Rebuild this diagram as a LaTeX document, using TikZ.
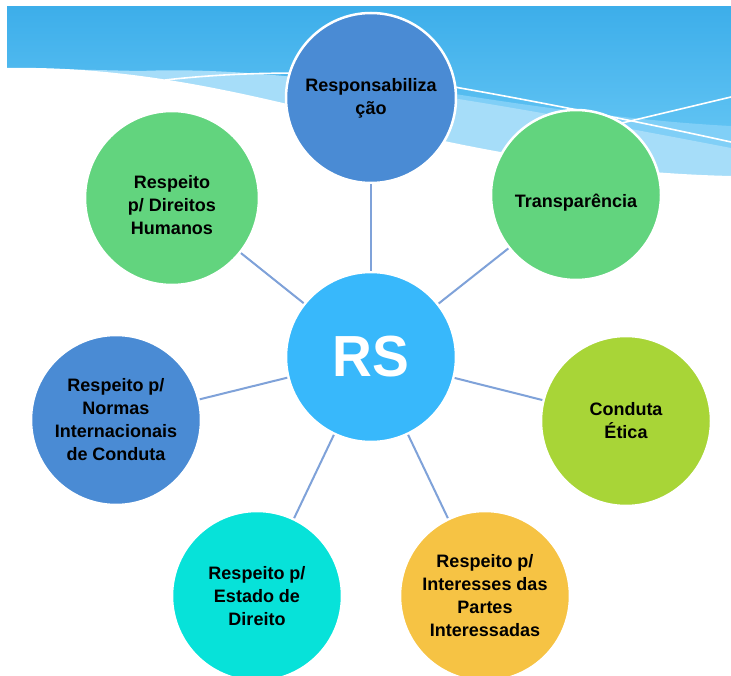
\documentclass[tikz,border=0pt]{standalone}
\usepackage{fontspec}
\setmainfont{Liberation Sans}
\definecolor{bannerTop}{HTML}{3DAEEA}
\definecolor{bannerBot}{HTML}{6FCCF7}
\definecolor{midband}{HTML}{80CFF7}
\definecolor{paleband}{HTML}{A6DDF9}
\definecolor{cblue}{HTML}{4A8BD4}
\definecolor{cgreen}{HTML}{62D47E}
\definecolor{clime}{HTML}{A8D537}
\definecolor{ccyan}{HTML}{07E2D9}
\definecolor{cyellow}{HTML}{F6C344}
\definecolor{crs}{HTML}{38B8FB}
\definecolor{connblue}{HTML}{7FA2D9}
\tikzset{
  bubble/.style={circle, draw=white, line width=2.5pt, inner sep=0pt,
    minimum size=170pt, align=center, text=black,
    font=\bfseries\fontsize{18}{23}\selectfont},
  bubtext/.style={align=center, text=black, inner sep=0pt,
    font=\bfseries\fontsize{18}{23}\selectfont},
  conn/.style={draw=connblue, line width=2pt},
  thinwhite/.style={draw=white, line width=1.6pt}
}
\begin{document}
\begin{tikzpicture}[x=1pt,y=-1pt]
\useasboundingbox (0,0) rectangle (731,676);
\fill[white] (0,0) rectangle (731,676);
% banner
\shade[top color=bannerTop, bottom color=bannerBot] (7,7) rectangle (731,185);
\fill[midband] (430,90) .. controls (540,108) and (650,122) .. (731,126) -- (731,186) -- (430,186) -- cycle;
\fill[paleband] (7,68) -- (140,71) .. controls (260,66) and (420,88) .. (731,148) -- (731,186) -- (7,186) -- cycle;
\fill[white] (0,68) -- (7,68) .. controls (120,66) and (220,88) .. (300,107) .. controls (420,137) and (560,172) .. (731,176) -- (731,195) -- (0,195) -- cycle;
\draw[thinwhite] (165,80) .. controls (290,66) and (400,76) .. (460,88) .. controls (540,102) and (640,122) .. (731,142);
\draw[thinwhite] (580,133) -- (731,97);
% circles
\node[bubble, fill=crs, text=white, font=\bfseries\fontsize{58}{58}\selectfont] (rs) at (371,357) {\scalebox{0.95}[1]{RS}};
\node[bubble, fill=cblue] (resp) at (371,98) {Responsabiliza\\ção};
\node[bubble, fill=cgreen, label={[bubtext, yshift=-8pt]center:Transparência}] (transp) at (576,195) {};
\node[bubble, fill=cgreen, minimum size=174pt, label={[bubtext, yshift=-7pt]center:Respeito\\p/ Direitos\\Humanos}] (dh) at (172,198) {};
\node[bubble, fill=cblue] (normas) at (116,420) {Respeito p/\\Normas\\Internacionais\\de Conduta};
\node[bubble, fill=clime] (etica) at (626,421) {Conduta\\Ética};
\node[bubble, fill=ccyan] (estado) at (257,596) {Respeito p/\\Estado de\\Direito};
\node[bubble, fill=cyellow] (partes) at (485,596) {Respeito p/\\Interesses das\\Partes\\Interessadas};
% connectors
\draw[conn] (rs) -- (resp);
\draw[conn] (rs) -- (transp);
\draw[conn] (rs) -- (dh);
\draw[conn] (rs) -- (normas);
\draw[conn] (rs) -- (etica);
\draw[conn] (rs) -- (estado);
\draw[conn] (rs) -- (partes);
\end{tikzpicture}
\end{document}
